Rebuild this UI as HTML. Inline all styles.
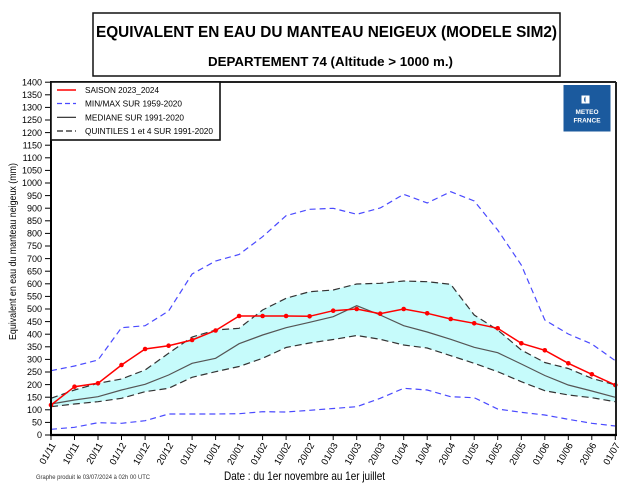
<!DOCTYPE html>
<html><head><meta charset="utf-8"><style>
html,body{margin:0;padding:0;background:#fff;}
svg{display:block;font-family:"Liberation Sans",Arial,sans-serif;}
</style></head><body>
<svg width="631" height="494" viewBox="0 0 631 494" xmlns="http://www.w3.org/2000/svg">
<rect x="0" y="0" width="631" height="494" fill="#fff"/>
<!-- Title box -->
<rect x="93" y="13" width="467" height="63" fill="#fff" stroke="#111" stroke-width="1.5"/>
<text x="96" y="37" font-size="15.3" font-weight="bold" textLength="461" lengthAdjust="spacingAndGlyphs" fill="#000">EQUIVALENT EN EAU DU MANTEAU NEIGEUX (MODELE SIM2)</text>
<text x="208" y="66" font-size="12.5" font-weight="bold" textLength="245" lengthAdjust="spacingAndGlyphs" fill="#000">DEPARTEMENT 74  (Altitude &gt; 1000 m.)</text>

<!-- band fill Q1-Q4 -->
<polygon fill="#c6fbfb" points="51,398.3 74.5,390 98,383.3 121.5,379 145.1,370 168.6,353.3 192.1,337 215.6,330 239.1,328.3 262.6,310 286.1,298.3 309.6,291.7 333.2,290 356.7,284 380.2,283.3 403.7,281 427.2,281.7 450.7,284.3 474.2,315 497.7,330 521.3,350 544.8,362.5 568.3,368.5 591.8,378.3 615.3,385 615.3,401.7 591.8,397.7 568.3,395 544.8,390.7 521.3,381.7 497.7,371.7 474.2,363.3 450.7,355.7 427.2,348 403.7,345 380.2,339.3 356.7,335.5 333.2,339.5 309.6,343 286.1,347.5 262.6,358.3 239.1,366.5 215.6,371.7 192.1,377.3 168.6,388.3 145.1,391.7 121.5,398.3 98,401.7 74.5,404 51,406.7"/>

<!-- Max -->
<polyline fill="none" stroke="#4a4aff" stroke-width="1.2" stroke-dasharray="6,4" points="51,370.7 74.5,366 98,360 121.5,327.7 145.1,325.7 168.6,311 192.1,274 215.6,261 239.1,254.5 262.6,236.7 286.1,215.7 309.6,209.3 333.2,208.3 356.7,214.3 380.2,208 403.7,194.3 427.2,203 450.7,191.7 474.2,201 497.7,230 521.3,265 544.8,320 568.3,334 591.8,344 615.3,360.7"/>
<!-- Min -->
<polyline fill="none" stroke="#4a4aff" stroke-width="1.2" stroke-dasharray="6,4" points="51,429.3 74.5,427.3 98,422.7 121.5,423.3 145.1,420.7 168.6,414 192.1,414 215.6,414 239.1,413.7 262.6,411.7 286.1,412 309.6,410.3 333.2,408.5 356.7,406.7 380.2,398.3 403.7,388.3 427.2,390 450.7,396.7 474.2,397.7 497.7,409 521.3,412.3 544.8,415 568.3,419.3 591.8,423.3 615.3,426"/>
<!-- Q4 -->
<polyline fill="none" stroke="#333" stroke-width="1.2" stroke-dasharray="7,4" points="51,398.3 74.5,390 98,383.3 121.5,379 145.1,370 168.6,353.3 192.1,337 215.6,330 239.1,328.3 262.6,310 286.1,298.3 309.6,291.7 333.2,290 356.7,284 380.2,283.3 403.7,281 427.2,281.7 450.7,284.3 474.2,315 497.7,330 521.3,350 544.8,362.5 568.3,368.5 591.8,378.3 615.3,385"/>
<!-- Q1 -->
<polyline fill="none" stroke="#333" stroke-width="1.2" stroke-dasharray="7,4" points="51,406.7 74.5,404 98,401.7 121.5,398.3 145.1,391.7 168.6,388.3 192.1,377.3 215.6,371.7 239.1,366.5 262.6,358.3 286.1,347.5 309.6,343 333.2,339.5 356.7,335.5 380.2,339.3 403.7,345 427.2,348 450.7,355.7 474.2,363.3 497.7,371.7 521.3,381.7 544.8,390.7 568.3,395 591.8,397.7 615.3,401.7"/>
<!-- Median -->
<polyline fill="none" stroke="#555" stroke-width="1.2" points="51,404 74.5,400 98,396.7 121.5,390 145.1,384.3 168.6,375 192.1,363.3 215.6,358.3 239.1,343.7 262.6,335 286.1,327.7 309.6,322.3 333.2,316.7 356.7,305.7 380.2,315 403.7,325.7 427.2,332 450.7,339.3 474.2,347.3 497.7,352.7 521.3,364 544.8,375.5 568.3,385 591.8,391 615.3,397.3"/>
<!-- Season -->
<polyline fill="none" stroke="#ff0000" stroke-width="1.5" points="51,405 74.5,386.7 98,383.3 121.5,365 145.1,349 168.6,345.7 192.1,340 215.6,330.5 239.1,316 262.6,316 286.1,316 309.6,316.3 333.2,310.7 356.7,309 380.2,313.7 403.7,309 427.2,313.3 450.7,319 474.2,323.3 497.7,328.3 521.3,343.3 544.8,350.3 568.3,363.3 591.8,374.3 615.3,385"/>
<g fill="#ff0000">
<circle cx="51" cy="405" r="2.3"/><circle cx="74.5" cy="386.7" r="2.3"/><circle cx="98" cy="383.3" r="2.3"/><circle cx="121.5" cy="365" r="2.3"/><circle cx="145.1" cy="349" r="2.3"/><circle cx="168.6" cy="345.7" r="2.3"/><circle cx="192.1" cy="340" r="2.3"/><circle cx="215.6" cy="330.5" r="2.3"/><circle cx="239.1" cy="316" r="2.3"/><circle cx="262.6" cy="316" r="2.3"/><circle cx="286.1" cy="316" r="2.3"/><circle cx="309.6" cy="316.3" r="2.3"/><circle cx="333.2" cy="310.7" r="2.3"/><circle cx="356.7" cy="309" r="2.3"/><circle cx="380.2" cy="313.7" r="2.3"/><circle cx="403.7" cy="309" r="2.3"/><circle cx="427.2" cy="313.3" r="2.3"/><circle cx="450.7" cy="319" r="2.3"/><circle cx="474.2" cy="323.3" r="2.3"/><circle cx="497.7" cy="328.3" r="2.3"/><circle cx="521.3" cy="343.3" r="2.3"/><circle cx="544.8" cy="350.3" r="2.3"/><circle cx="568.3" cy="363.3" r="2.3"/><circle cx="591.8" cy="374.3" r="2.3"/><circle cx="615.3" cy="385" r="2.3"/>
</g>

<!-- Frame -->
<line x1="51" y1="82" x2="616" y2="82" stroke="#222" stroke-width="2"/>
<line x1="616" y1="82" x2="616" y2="435" stroke="#222" stroke-width="2"/>
<line x1="51" y1="81" x2="51" y2="436" stroke="#000" stroke-width="2"/>
<line x1="50" y1="435" x2="617" y2="435" stroke="#000" stroke-width="2.2"/>

<!-- Y ticks -->
<g stroke="#000" stroke-width="1">
<line x1="45" y1="435" x2="51" y2="435"/><line x1="45" y1="422.4" x2="51" y2="422.4"/><line x1="45" y1="409.8" x2="51" y2="409.8"/><line x1="45" y1="397.2" x2="51" y2="397.2"/><line x1="45" y1="384.6" x2="51" y2="384.6"/><line x1="45" y1="372" x2="51" y2="372"/><line x1="45" y1="359.4" x2="51" y2="359.4"/><line x1="45" y1="346.8" x2="51" y2="346.8"/><line x1="45" y1="334.2" x2="51" y2="334.2"/><line x1="45" y1="321.6" x2="51" y2="321.6"/><line x1="45" y1="309" x2="51" y2="309"/><line x1="45" y1="296.4" x2="51" y2="296.4"/><line x1="45" y1="283.8" x2="51" y2="283.8"/><line x1="45" y1="271.2" x2="51" y2="271.2"/><line x1="45" y1="258.6" x2="51" y2="258.6"/><line x1="45" y1="246" x2="51" y2="246"/><line x1="45" y1="233.4" x2="51" y2="233.4"/><line x1="45" y1="220.8" x2="51" y2="220.8"/><line x1="45" y1="208.2" x2="51" y2="208.2"/><line x1="45" y1="195.6" x2="51" y2="195.6"/><line x1="45" y1="183" x2="51" y2="183"/><line x1="45" y1="170.4" x2="51" y2="170.4"/><line x1="45" y1="157.8" x2="51" y2="157.8"/><line x1="45" y1="145.2" x2="51" y2="145.2"/><line x1="45" y1="132.6" x2="51" y2="132.6"/><line x1="45" y1="120" x2="51" y2="120"/><line x1="45" y1="107.4" x2="51" y2="107.4"/><line x1="45" y1="94.8" x2="51" y2="94.8"/><line x1="45" y1="82.2" x2="51" y2="82.2"/>
</g>
<g font-size="9" text-anchor="end" fill="#000">
<text x="42" y="438.2">0</text><text x="42" y="425.6">50</text><text x="42" y="413">100</text><text x="42" y="400.4">150</text><text x="42" y="387.8">200</text><text x="42" y="375.2">250</text><text x="42" y="362.6">300</text><text x="42" y="350">350</text><text x="42" y="337.4">400</text><text x="42" y="324.8">450</text><text x="42" y="312.2">500</text><text x="42" y="299.6">550</text><text x="42" y="287">600</text><text x="42" y="274.4">650</text><text x="42" y="261.8">700</text><text x="42" y="249.2">750</text><text x="42" y="236.6">800</text><text x="42" y="224">850</text><text x="42" y="211.4">900</text><text x="42" y="198.8">950</text><text x="42" y="186.2">1000</text><text x="42" y="173.6">1050</text><text x="42" y="161">1100</text><text x="42" y="148.4">1150</text><text x="42" y="135.8">1200</text><text x="42" y="123.2">1250</text><text x="42" y="110.6">1300</text><text x="42" y="98">1350</text><text x="42" y="85.4">1400</text>
</g>

<!-- X ticks -->
<g stroke="#000" stroke-width="1">
<line x1="51" y1="435" x2="51" y2="440"/><line x1="74.5" y1="435" x2="74.5" y2="440"/><line x1="98" y1="435" x2="98" y2="440"/><line x1="121.5" y1="435" x2="121.5" y2="440"/><line x1="145.1" y1="435" x2="145.1" y2="440"/><line x1="168.6" y1="435" x2="168.6" y2="440"/><line x1="192.1" y1="435" x2="192.1" y2="440"/><line x1="215.6" y1="435" x2="215.6" y2="440"/><line x1="239.1" y1="435" x2="239.1" y2="440"/><line x1="262.6" y1="435" x2="262.6" y2="440"/><line x1="286.1" y1="435" x2="286.1" y2="440"/><line x1="309.6" y1="435" x2="309.6" y2="440"/><line x1="333.2" y1="435" x2="333.2" y2="440"/><line x1="356.7" y1="435" x2="356.7" y2="440"/><line x1="380.2" y1="435" x2="380.2" y2="440"/><line x1="403.7" y1="435" x2="403.7" y2="440"/><line x1="427.2" y1="435" x2="427.2" y2="440"/><line x1="450.7" y1="435" x2="450.7" y2="440"/><line x1="474.2" y1="435" x2="474.2" y2="440"/><line x1="497.7" y1="435" x2="497.7" y2="440"/><line x1="521.3" y1="435" x2="521.3" y2="440"/><line x1="544.8" y1="435" x2="544.8" y2="440"/><line x1="568.3" y1="435" x2="568.3" y2="440"/><line x1="591.8" y1="435" x2="591.8" y2="440"/><line x1="615.3" y1="435" x2="615.3" y2="440"/>
</g>
<g font-size="9.5" text-anchor="end" fill="#000">
<text transform="translate(56,445) rotate(-60)">01/11</text>
<text transform="translate(79.5,445) rotate(-60)">10/11</text>
<text transform="translate(103,445) rotate(-60)">20/11</text>
<text transform="translate(126.5,445) rotate(-60)">01/12</text>
<text transform="translate(150.1,445) rotate(-60)">10/12</text>
<text transform="translate(173.6,445) rotate(-60)">20/12</text>
<text transform="translate(197.1,445) rotate(-60)">01/01</text>
<text transform="translate(220.6,445) rotate(-60)">10/01</text>
<text transform="translate(244.1,445) rotate(-60)">20/01</text>
<text transform="translate(267.6,445) rotate(-60)">01/02</text>
<text transform="translate(291.1,445) rotate(-60)">10/02</text>
<text transform="translate(314.6,445) rotate(-60)">20/02</text>
<text transform="translate(338.2,445) rotate(-60)">01/03</text>
<text transform="translate(361.7,445) rotate(-60)">10/03</text>
<text transform="translate(385.2,445) rotate(-60)">20/03</text>
<text transform="translate(408.7,445) rotate(-60)">01/04</text>
<text transform="translate(432.2,445) rotate(-60)">10/04</text>
<text transform="translate(455.7,445) rotate(-60)">20/04</text>
<text transform="translate(479.2,445) rotate(-60)">01/05</text>
<text transform="translate(502.7,445) rotate(-60)">10/05</text>
<text transform="translate(526.3,445) rotate(-60)">20/05</text>
<text transform="translate(549.8,445) rotate(-60)">01/06</text>
<text transform="translate(573.3,445) rotate(-60)">10/06</text>
<text transform="translate(596.8,445) rotate(-60)">20/06</text>
<text transform="translate(620.3,445) rotate(-60)">01/07</text>
</g>

<!-- Axis titles -->
<text transform="translate(16,340) rotate(-90)" font-size="10" textLength="177" lengthAdjust="spacingAndGlyphs" fill="#000">Equivalent en eau du manteau neigeux (mm)</text>
<text x="224" y="480" font-size="12" textLength="161" lengthAdjust="spacingAndGlyphs" fill="#000">Date : du 1er novembre au 1er juillet</text>
<text x="36" y="479" font-size="6" textLength="114" lengthAdjust="spacingAndGlyphs" fill="#333">Graphe produit le 03/07/2024 à 02h 00 UTC</text>

<!-- Legend -->
<rect x="51" y="82" width="169" height="58" fill="#fff" stroke="#111" stroke-width="1.6"/>
<line x1="57" y1="90" x2="76" y2="90" stroke="#ff0000" stroke-width="1.5"/>
<line x1="57" y1="103.5" x2="76" y2="103.5" stroke="#4a4aff" stroke-width="1.2" stroke-dasharray="5,3"/>
<line x1="57" y1="117.3" x2="76" y2="117.3" stroke="#222" stroke-width="1.2"/>
<line x1="57" y1="131" x2="76" y2="131" stroke="#222" stroke-width="1.2" stroke-dasharray="6,3"/>
<g font-size="8.5" fill="#000">
<text x="85" y="93" textLength="74" lengthAdjust="spacingAndGlyphs">SAISON 2023_2024</text>
<text x="85" y="106.5" textLength="97" lengthAdjust="spacingAndGlyphs">MIN/MAX SUR 1959-2020</text>
<text x="85" y="120.3" textLength="99" lengthAdjust="spacingAndGlyphs">MEDIANE SUR 1991-2020</text>
<text x="85" y="134" textLength="128" lengthAdjust="spacingAndGlyphs">QUINTILES 1 et 4 SUR 1991-2020</text>
</g>

<!-- Logo -->
<rect x="563.5" y="85" width="47" height="46.5" fill="#1b5a9e"/>
<rect x="581.5" y="95.5" width="8" height="8" fill="#fff"/>
<path d="M585.5,96.5 a3,3.5 0 0 0 0,6 z" fill="#1b5a9e"/>
<text x="587" y="114" font-size="6.5" font-weight="bold" text-anchor="middle" fill="#fff">METEO</text>
<text x="587" y="122.5" font-size="6.5" font-weight="bold" text-anchor="middle" fill="#fff">FRANCE</text>
</svg>
</body></html>
